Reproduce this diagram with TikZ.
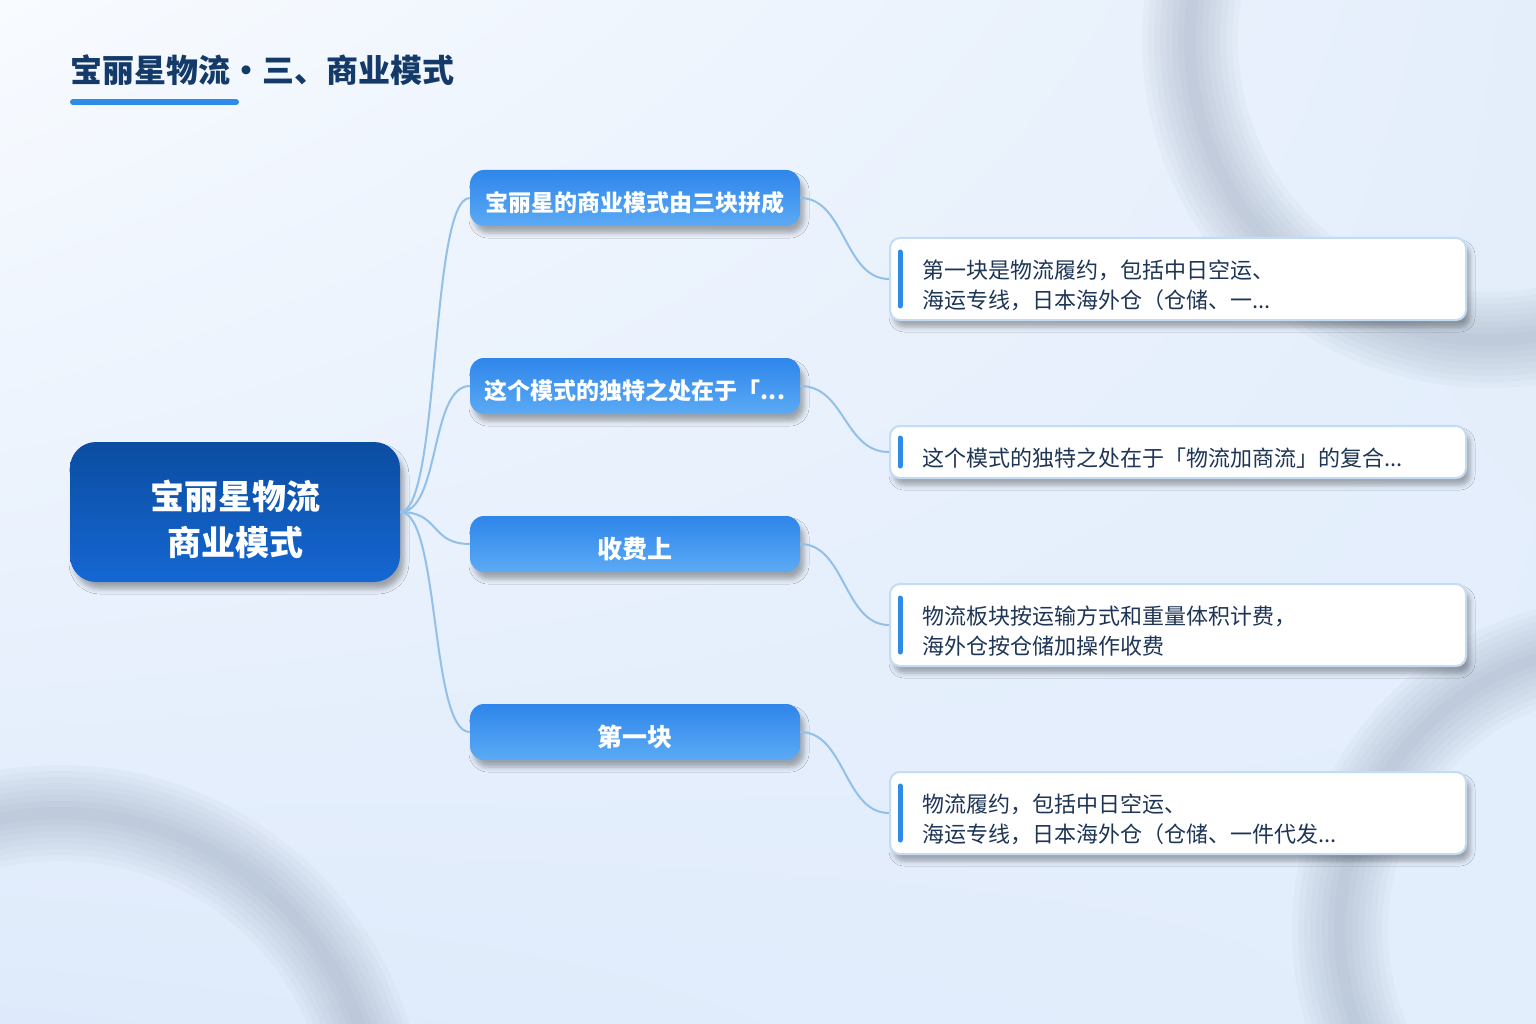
\documentclass[tikz,border=0pt]{standalone}
\usepackage{fontspec}
\setmainfont{Noto Sans CJK SC}
\usetikzlibrary{shadows.blur}
\usetikzlibrary{shadings}
\definecolor{hatterfent}{HTML}{F8FBFF}
\definecolor{hatterjobb}{HTML}{E4EEFB}
\definecolor{hatterbal}{HTML}{DEEAFB}
\definecolor{hatterlent}{HTML}{E3EEFC}
\definecolor{gyurugrey}{HTML}{8E9BB0}
\definecolor{cimszin}{HTML}{133A68}
\definecolor{kek}{HTML}{2E8BE8}
\definecolor{gyokerfent}{HTML}{0B4DA1}
\definecolor{gyokerlent}{HTML}{1567D3}
\definecolor{agfent}{HTML}{2F86EA}
\definecolor{aglent}{HTML}{5BAAF5}
\definecolor{szegely}{HTML}{C3DBF3}
\definecolor{szoveg}{HTML}{1E3556}
\definecolor{vonal}{HTML}{93C0E8}
\newcommand{\lent}[2][6pt]{\raisebox{-#1}[\height][\depth]{#2}}

\begin{document}
\begin{tikzpicture}[x=1pt,y=-1pt,
arnyek/.style={blur shadow={shadow xshift=4pt,shadow yshift=-7pt,shadow blur radius=5pt,shadow opacity=32}},
gyoker/.style={rectangle,rounded corners=26pt,minimum width=330pt,minimum height=140pt,
  top color=gyokerfent,bottom color=gyokerlent,text=white,align=center,
  font=\fontsize{34}{46}\selectfont\bfseries,arnyek},
ag/.style={rectangle,rounded corners=14pt,minimum width=330pt,minimum height=56pt,
  top color=agfent,bottom color=aglent,text=white,
  font=\fontsize{23}{28}\selectfont\bfseries,arnyek},
level/.style={rectangle,rounded corners=10pt,minimum width=576pt,minimum height=#1,
  draw=szegely,line width=2pt,fill=white,text=szoveg,align=left,
  text width=512pt,inner xsep=32pt,font=\fontsize{22}{30}\selectfont,arnyek},
jel/.style={draw=kek,line width=5pt,line cap=round},
gyuru/.style={draw=gyurugrey,line width=#1,opacity=0.06}
]

% hatter
\useasboundingbox (0,0) rectangle (1536,1024);
\shade[upper left=hatterfent,upper right=hatterjobb,lower left=hatterbal,lower right=hatterlent]
  (0,0) rectangle (1536,1024);
\begin{scope}
\clip (0,0) rectangle (1536,1024);
\foreach \w in {96,84,72,60,48,36,24,12}{
  \draw[gyuru=\w pt] (1490,40) circle[radius=300pt];
  \draw[gyuru=\w pt] (60,1130) circle[radius=317pt];
  \draw[gyuru=\w pt] (1625,930) circle[radius=285pt];
}
\end{scope}

% cim
\node[anchor=west,inner sep=0pt,text=cimszin,font=\fontsize{32}{36}\selectfont\bfseries](cim) at (70,70){宝丽星物流・三、商业模式};
\coordinate (alahuz1) at (73,102);
\coordinate (alahuz2) at (236,102);
\draw[jel,line width=6pt] (alahuz1)--(alahuz2);

\node[gyoker](gyoker) at (235,512){\lent[7pt]{宝丽星物流}\\\lent[7pt]{商业模式}};

\node[ag](ag1) at (635,198){\lent[5pt]{宝丽星的商业模式由三块拼成}};
\node[ag](ag2) at (635,386){\lent[5pt]{这个模式的独特之处在于「...}};
\node[ag,font=\fontsize{25}{30}\selectfont\bfseries](ag3) at (635,544){\lent[5pt]{收费上}};
\node[ag,font=\fontsize{25}{30}\selectfont\bfseries](ag4) at (635,732){\lent[5pt]{第一块}};

\node[level=82pt](level1) at (1178,279){\lent{第一块是物流履约，包括中日空运、}\\\lent{海运专线，日本海外仓（仓储、一...}};
\node[level=52pt](level2) at (1178,452){\lent{这个模式的独特之处在于「物流加商流」的复合...}};
\node[level=82pt](level3) at (1178,625){\lent{物流板块按运输方式和重量体积计费，}\\\lent{海外仓按仓储加操作收费}};
\node[level=82pt](level4) at (1178,813){\lent{物流履约，包括中日空运、}\\\lent{海运专线，日本海外仓（仓储、一件代发...}};

\draw[jel] ([xshift=11pt,yshift=-15pt]level1.north west)--([xshift=11pt,yshift=15pt]level1.south west);
\draw[jel] ([xshift=11pt,yshift=-13pt]level2.north west)--([xshift=11pt,yshift=13pt]level2.south west);
\draw[jel] ([xshift=11pt,yshift=-15pt]level3.north west)--([xshift=11pt,yshift=15pt]level3.south west);
\draw[jel] ([xshift=11pt,yshift=-15pt]level4.north west)--([xshift=11pt,yshift=15pt]level4.south west);

\begin{scope}[draw=vonal, line width=2pt]
\draw (gyoker.east) .. controls +(40,0) and +(-40,0) .. (ag1.west);
\draw (gyoker.east) .. controls +(40,0) and +(-40,0) .. (ag2.west);
\draw (gyoker.east) .. controls +(40,0) and +(-40,0) .. (ag3.west);
\draw (gyoker.east) .. controls +(40,0) and +(-40,0) .. (ag4.west);
\draw (ag1.east) .. controls +(45,0) and +(-45,0) .. (level1.west);
\draw (ag2.east) .. controls +(45,0) and +(-45,0) .. (level2.west);
\draw (ag3.east) .. controls +(45,0) and +(-45,0) .. (level3.west);
\draw (ag4.east) .. controls +(45,0) and +(-45,0) .. (level4.west);
\end{scope}

\end{tikzpicture}
\end{document}
